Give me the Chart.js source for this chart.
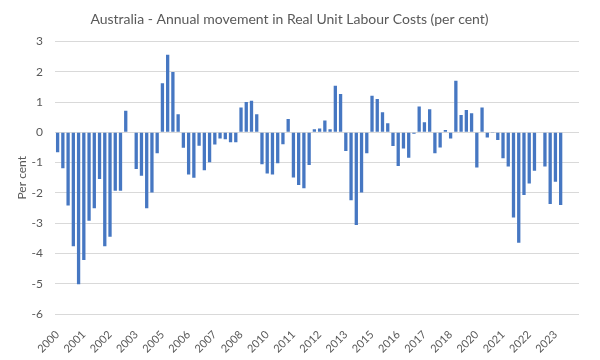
<!DOCTYPE html>
<html>
<head>
<meta charset="utf-8">
<script src="https://cdn.jsdelivr.net/npm/chart.js@4.4.1/dist/chart.umd.min.js"></script>
<style>
  html, body { margin: 0; padding: 0; background: #ffffff; }
  #wrap { width: 600px; height: 360px; }
</style>
</head>
<body>
<div id="wrap"><canvas id="c" width="600" height="360"></canvas></div>
<script>
// Quarterly categories, 2000-Q1 .. 2024-Q4
const categories = [
  '2000-Q1','2000-Q2','2000-Q3','2000-Q4','2001-Q1','2001-Q2','2001-Q3','2001-Q4',
  '2002-Q1','2002-Q2','2002-Q3','2002-Q4','2003-Q1','2003-Q2','2003-Q3','2003-Q4',
  '2004-Q1','2004-Q2','2004-Q3','2004-Q4','2005-Q1','2005-Q2','2005-Q3','2005-Q4',
  '2006-Q1','2006-Q2','2006-Q3','2006-Q4','2007-Q1','2007-Q2','2007-Q3','2007-Q4',
  '2008-Q1','2008-Q2','2008-Q3','2008-Q4','2009-Q1','2009-Q2','2009-Q3','2009-Q4',
  '2010-Q1','2010-Q2','2010-Q3','2010-Q4','2011-Q1','2011-Q2','2011-Q3','2011-Q4',
  '2012-Q1','2012-Q2','2012-Q3','2012-Q4','2013-Q1','2013-Q2','2013-Q3','2013-Q4',
  '2014-Q1','2014-Q2','2014-Q3','2014-Q4','2015-Q1','2015-Q2','2015-Q3','2015-Q4',
  '2016-Q1','2016-Q2','2016-Q3','2016-Q4','2017-Q1','2017-Q2','2017-Q3','2017-Q4',
  '2018-Q1','2018-Q2','2018-Q3','2018-Q4','2019-Q1','2019-Q2','2019-Q3','2019-Q4',
  '2020-Q1','2020-Q2','2020-Q3','2020-Q4','2021-Q1','2021-Q2','2021-Q3','2021-Q4',
  '2022-Q1','2022-Q2','2022-Q3','2022-Q4','2023-Q1','2023-Q2','2023-Q3','2023-Q4',
  '2024-Q1','2024-Q2','2024-Q3','2024-Q4'
];

// Annual movement in real unit labour costs (per cent)
const rulcChange = [
  -0.66, -1.19, -2.42, -3.76, -5.02, -4.22, -2.92, -2.51,
  -1.54, -3.76, -3.45, -1.93, -1.93,  0.71,  0.00, -1.21,
  -1.43, -2.51, -1.99, -0.69,  1.62,  2.56,  1.99,  0.60,
  -0.51, -1.39, -1.50, -0.44, -1.25, -0.99, -0.40, -0.20,
  -0.23, -0.33, -0.33,  0.82,  1.00,  1.04,  0.60, -1.05,
  -1.36, -1.39, -1.02, -0.39,  0.44, -1.49, -1.74, -1.85,
  -1.08,  0.10,  0.13,  0.39,  0.10,  1.54,  1.27, -0.62,
  -2.24, -3.06, -1.99, -0.69,  1.21,  1.10,  0.66,  0.30,
  -0.45, -1.11, -0.53, -0.84, -0.05,  0.85,  0.33,  0.76,
  -0.69, -0.50,  0.08, -0.20,  1.70,  0.57,  0.74,  0.63,
  -1.16,  0.82, -0.17, -0.02, -0.25, -0.86, -1.13, -2.81,
  -3.65, -2.07, -1.69, -1.27,  0.02, -1.13, -2.37, -1.63,
  -2.40,  null,  null,  null
];

// Axis tick labels (one every 5 quarters)
const xTickLabels = ['2000','2001','2002','2003','2005','2006','2007','2008','2010','2011',
                     '2012','2013','2015','2016','2017','2018','2020','2021','2022','2023'];
const xTickEvery = 5;
const yTicks = [3, 2, 1, 0, -1, -2, -3, -4, -5, -6];

const titleText = 'Australia - Annual movement in Real Unit Labour Costs (per cent)';
const yTitle = 'Per cent';

const textColor = '#595959';
const fontFamily = 'Lato, "Open Sans", "Liberation Sans", sans-serif';

new Chart(document.getElementById('c'), {
  type: 'bar',
  data: {
    labels: categories,
    datasets: [{
      label: 'Real unit labour costs',
      data: rulcChange,
      backgroundColor: '#4677C2',
      borderWidth: 0,
      categoryPercentage: 1.0,
      barPercentage: 0.63
    }]
  },
  options: {
    responsive: false,
    animation: false,
    devicePixelRatio: 1,
    layout: { padding: { left: 0, right: 21, top: 0, bottom: 0 } },
    plugins: {
      legend: { display: false },
      tooltip: { enabled: false },
      title: {
        display: true,
        text: titleText,
        color: textColor,
        font: { family: fontFamily, size: 14, weight: 'normal', lineHeight: 1.2 },
        padding: { top: 11, bottom: 13.7 }
      }
    },
    scales: {
      x: {
        grid: { display: false },
        border: { display: false },
        ticks: {
          autoSkip: false,
          minRotation: 45,
          maxRotation: 45,
          padding: 6,
          color: textColor,
          font: { family: fontFamily, size: 11 },
          callback: function (value, index) {
            return index % xTickEvery === 0 ? xTickLabels[index / xTickEvery] : '';
          }
        },
        afterFit: function (scale) { scale.height = 46; }
      },
      y: {
        min: Math.min(...yTicks),
        max: Math.max(...yTicks),
        grid: { color: '#d9d9d9', lineWidth: 1, drawTicks: false },
        border: { display: false },
        ticks: {
          stepSize: 1,
          padding: 12,
          color: textColor,
          font: { family: fontFamily, size: 12 }
        },
        title: {
          display: true,
          text: yTitle,
          color: textColor,
          font: { family: fontFamily, size: 12, lineHeight: 1.2 },
          padding: { top: 15, bottom: 0 }
        },
        afterFit: function (scale) { scale.width = 55; }
      }
    }
  }
});
</script>
</body>
</html>
